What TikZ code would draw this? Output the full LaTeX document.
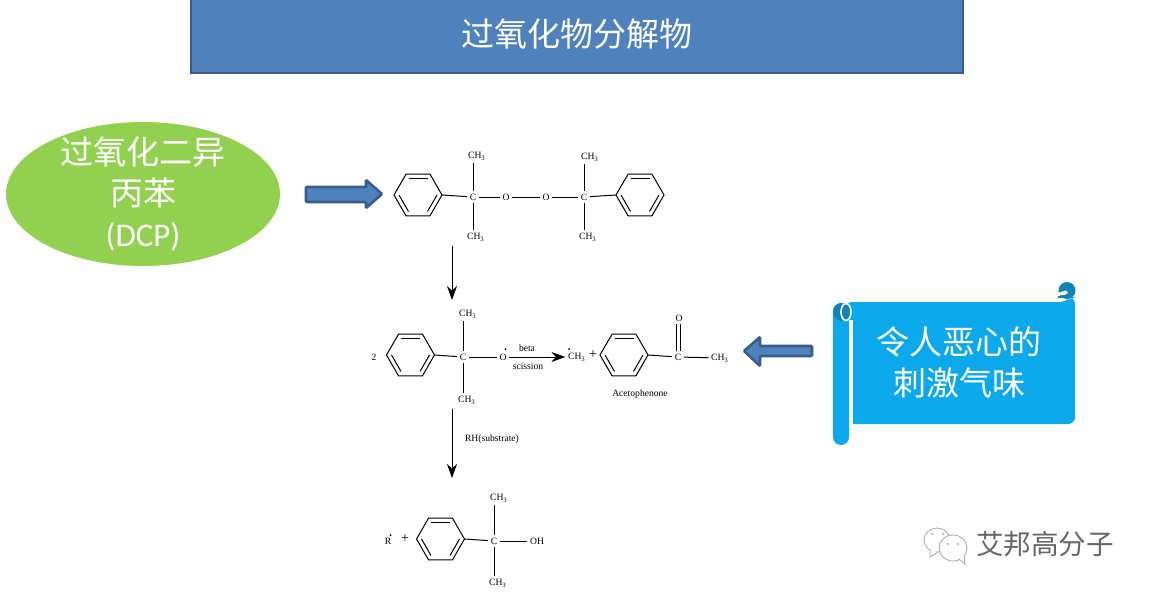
\documentclass[tikz,border=0pt]{standalone}
\usepackage{fontspec}
\setmainfont{Liberation Serif}
\newfontfamily\cjk{Noto Sans CJK SC}
\newfontfamily\latin{Carlito}
\usetikzlibrary{calc}
\usetikzlibrary{arrows.meta}
\usetikzlibrary{shapes.geometric}
\definecolor{titleblue}{HTML}{4F81BD}
\definecolor{titleedge}{HTML}{385D8A}
\definecolor{dcpgreen}{HTML}{92D050}
\definecolor{scrollblue}{HTML}{0BA9EC}
\definecolor{curlblue}{HTML}{1183B5}
\tikzset{
	atom/.style={inner sep=1.2pt,font=\fontsize{4.8}{5.5}\selectfont},
	bond/.style={line width=0.5pt},
	rxnarrow/.style={line width=0.5pt,-{Stealth[length=7pt,width=5pt]}},
	blockarrow/.style={fill=titleblue,draw=titleedge,line width=1.3pt,rounded corners=0.5pt},
	bigtext/.style={text=white,align=center,font=\fontsize{16.5}{20.5}\selectfont\cjk},
	logoline/.style={draw=gray!70,line width=0.4pt,fill=white}
}
\newcommand{\methyl}{CH\textsubscript{3}}
\def\benzene(#1)(#2)% Syntax: (name) (center)
{ \coordinate (#1) at (#2);
	\coordinate (#1r) at ($(#1)+(0:24)$);
	\coordinate (#1l) at ($(#1)+(180:24)$);
	\draw[bond] (#1r) foreach \a in {60,120,...,300} {-- ($(#1)+(\a:24)$)} -- cycle;
	\foreach \a in {0,120,240} \draw[bond] ($(#1)+(\a:19)$)--($(#1)+(\a+60:19)$);
}
\begin{document}
\begin{tikzpicture}[x=0.5pt,y=-0.5pt]
	\useasboundingbox (0,0) rectangle (1152,595);
	%TITLE
	\fill[titleblue,draw=titleedge,line width=1.3pt] (191,-5) rectangle (963,73);
	\node[bigtext] (title) at (577,34) {过氧化物分解物};
	
	%DCP
	\node[ellipse,fill=dcpgreen,minimum width=137pt,minimum height=72pt,inner sep=0pt] (dcp) at (143,194) {};
	\node[bigtext] (dcptext) at (dcp) {过氧化二异\\丙苯\\{\latin (DCP)}};
	\draw[blockarrow] (306,187)--(366,187)--(366,180)--(382,194)--(366,208)--(366,202)--(306,202)--cycle;
	
	%PEROXIDE
	\benzene(ringA)(418,195)
	\benzene(ringB)(640,195)
	\node[atom] (Ca) at (473,197) {C};
	\node[atom] (Oa) at (506,197) {O};
	\node[atom] (Ob) at (546,197) {O};
	\node[atom] (Cb) at (584,197) {C};
	\node[atom] (Ma) at (477,156) {\methyl};
	\node[atom] (Mb) at (476,237) {\methyl};
	\node[atom] (Mc) at (590,157) {\methyl};
	\node[atom] (Md) at (588,237) {\methyl};
	\draw[bond] (ringAr)--(Ca);
	\draw[bond] (Ca)--(Oa);
	\draw[bond] (Oa)--(Ob);
	\draw[bond] (Ob)--(Cb);
	\draw[bond] (Cb)--(ringBl);
	\draw[bond] (Ca)--(Ma.south -| Ca);
	\draw[bond] (Ca)--(Mb.north -| Ca);
	\draw[bond] (Cb)--(Mc.south -| Cb);
	\draw[bond] (Cb)--(Md.north -| Cb);
	%
	\coordinate (downAs) at (452,246);
	\coordinate (downAe) at (452,300);
	\draw[rxnarrow] (downAs)--(downAe);
	
	%CUMYLOXY RADICAL
	\node[atom] (two) at (374,357) {2};
	\benzene(ringC)(410.5,355)
	\node[atom] (Cc) at (463,357) {C};
	\node[atom] (Oc) at (503,357) {O};
	\node[atom] (Me) at (468,314) {\methyl};
	\node[atom] (Mf) at (467,400) {\methyl};
	\fill (505.5,349) circle (1);
	\draw[bond] (ringCr)--(Cc);
	\draw[bond] (Cc)--(Oc);
	\draw[bond] (Cc)--(Me.south -| Cc);
	\draw[bond] (Cc)--(Mf.north -| Cc);
	%
	\node[atom] (Mg) at (577,357) {\methyl};
	\fill (569,349) circle (1);
	\draw[rxnarrow] (Oc)--(Mg);
	\node[atom] (beta) at (527,348) {beta};
	\node[atom] (scission) at (528,366) {scission};
	\node[atom,font=\fontsize{7}{8}\selectfont] (plusA) at (593,355) {+};
	
	%ACETOPHENONE
	\benzene(ringD)(624,355)
	\node[atom] (Cd) at (678,357) {C};
	\node[atom] (Od) at (679,318) {O};
	\node[atom] (Mh) at (720,358) {\methyl};
	\node[atom] (aceto) at (640,394) {Acetophenone};
	\draw[bond] (ringDr)--(Cd);
	\draw[bond] (Cd)--(Mh);
	\draw[bond] ($(Cd.north)+(-2,0)$)--($(Od.south)+(-3,0)$);
	\draw[bond] ($(Cd.north)+(2,0)$)--($(Od.south)+(1,0)$);
	%
	\coordinate (downBs) at (452,409);
	\coordinate (downBe) at (452,478);
	\draw[rxnarrow] (downBs)--(downBe);
	\node[atom] (rh) at (492,439) {RH(substrate)};
	
	%ALCOHOL
	\node[atom] (Rr) at (388,541) {R};
	\fill (390.5,535) circle (1);
	\node[atom,font=\fontsize{7}{8}\selectfont] (plusB) at (405,539) {+};
	\benzene(ringE)(440.5,539)
	\node[atom] (Ce) at (494,541) {C};
	\node[atom] (OH) at (537,541) {OH};
	\node[atom] (Mi) at (499,498) {\methyl};
	\node[atom] (Mj) at (498,583) {\methyl};
	\draw[bond] (ringEr)--(Ce);
	\draw[bond] (Ce)--(OH);
	\draw[bond] (Ce)--(Mi.south -| Ce);
	\draw[bond] (Ce)--(Mj.north -| Ce);
	
	%SCROLL
	\draw[blockarrow] (812,346)--(760,346)--(760,337)--(744,351)--(760,366)--(760,356)--(812,356)--cycle;
	\fill[scrollblue,rounded corners=3.5pt] (845,302)--(1066,302)--(1071,297)--(1075,297)--(1075,424)--(845,424)--cycle;
	\fill[white] (849,320) rectangle (853,430);
	\fill[white] (845,424) rectangle (853,430);
	\fill[scrollblue,rounded corners=4pt] (833,303) rectangle (849,445);
	\fill[curlblue] (842,312) circle (9);
	\draw[white,line width=0.8pt] (846,312) ellipse (5 and 8.5);
	\fill[curlblue] (1067,290.5) circle (8.5);
	\fill[white] (1058,293)--(1066,290.5)--(1068,293)--(1064,295)--(1058,295)--cycle;
	\fill[curlblue] (1058,295.5) rectangle (1067,297.5);
	\node[bigtext] (smell) at (959,362) {令人恶心的\\刺激气味};
	
	%LOGO
	\draw[logoline] (937,540) ellipse (13 and 12);
	\draw[logoline] (930,550)--(930,557)--(938,552);
	\draw[logoline] (953,548) ellipse (14 and 13);
	\draw[logoline] (959,559)--(965,564)--(964,555);
	\foreach \p in {(932,534),(943,534),(948,544),(958,544)} \fill[gray] \p circle (0.9);
	\node[text=gray!80!black,font=\fontsize{13.8}{16}\selectfont\cjk] (logo) at (1045,544) {艾邦高分子};
\end{tikzpicture}
\end{document}
